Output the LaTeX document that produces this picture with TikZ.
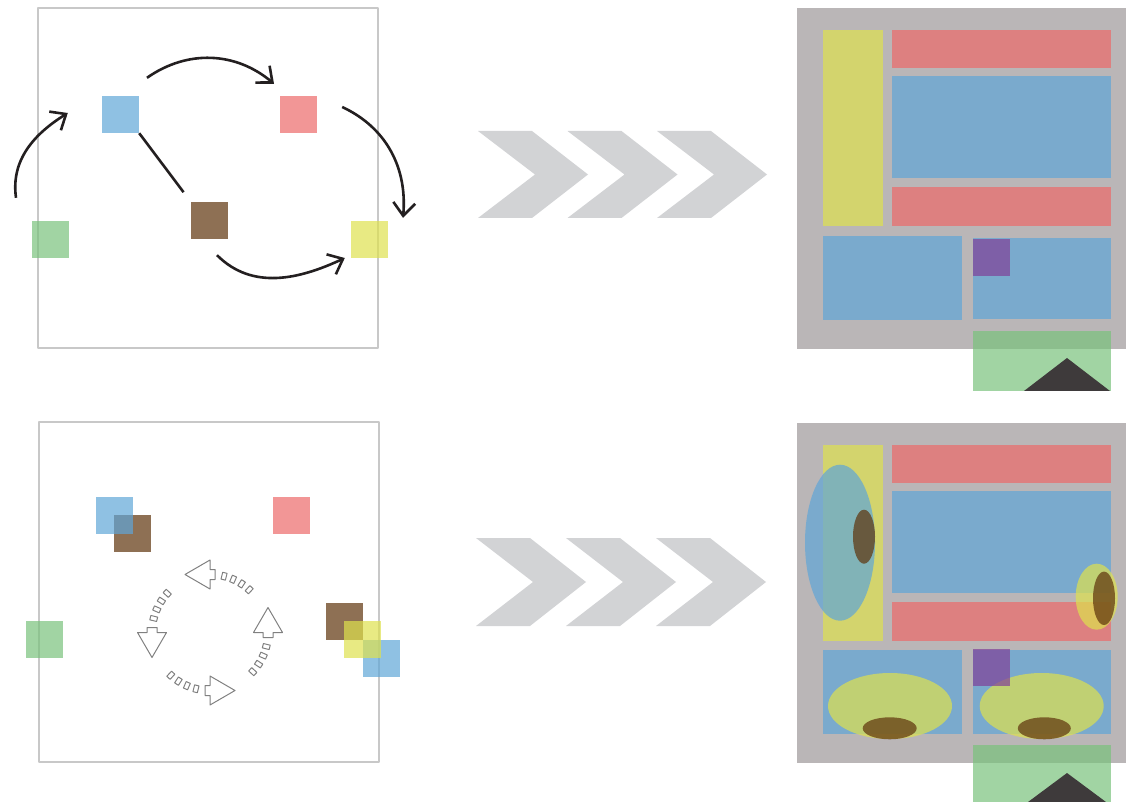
\documentclass[tikz,border=0pt]{standalone}
\usetikzlibrary{arrows.meta}
\definecolor{sqblue}{RGB}{95,166,215}
\definecolor{sqred}{RGB}{236,106,106}
\definecolor{sqbrown}{RGB}{94,51,12}
\definecolor{sqgreen}{RGB}{121,194,124}
\definecolor{sqyellow}{RGB}{222,225,78}
\definecolor{sqpurple}{RGB}{128,64,152}
\definecolor{panelgray}{RGB}{186,182,183}
\definecolor{chevgray}{RGB}{210,211,213}
\definecolor{framegray}{RGB}{200,200,200}
\definecolor{inkdark}{RGB}{35,31,32}
\definecolor{roofdark}{RGB}{62,58,59}
\begin{document}
\begin{tikzpicture}[x=1pt,y=1pt,>={Straight Barb[length=13pt,width=22pt,sharp]},line join=round,
	sq/.style={minimum size=37pt,inner sep=0pt,fill opacity=.7},
	blk/.style={fill opacity=.7},
	flow/.style={->,line width=2.6pt,inkdark},
	box/.style={line width=2.3pt,framegray},
	chev/.style={fill=chevgray},
	spin/.style={line width=1pt,gray}]
	\useasboundingbox (0,0) rectangle (1126,801);
	\clip (0,0) rectangle (1126,801);
	%\draw[color=gray!30] (0,0) grid[step=50] (1126,801);
	% Khung trên
	\draw[box] (38,793) rectangle (378,453);
	\node[sq,fill=sqblue] (b1) at (120.5,686.5) {};
	\node[sq,fill=sqred] (r1) at (298.5,686.5) {};
	\node[sq,fill=sqbrown] (br1) at (209.5,580.5) {};
	\node[sq,fill=sqgreen] (g1) at (50.5,561.5) {};
	\node[sq,fill=sqyellow] (y1) at (369.5,561.5) {};
	\draw[line width=2.6pt,inkdark,shorten >=12pt] (b1.south east) -- (br1.north west);
	\draw[flow] ([shift={(-34.5,23)}]g1.north) to[out=98,in=212] ([shift={(-34,1.5)}]b1.west);
	\draw[flow] ([shift={(26.5,18)}]b1.north) to[out=35,in=140] ([shift={(-24.5,12)}]r1.north);
	\draw[flow] ([shift={(25,7.5)}]r1.east) to[out=-25,in=85] ([shift={(33.5,3)}]y1.north);
	\draw[flow] ([shift={(7.5,-16)}]br1.south) to[out=-45,in=205] ([shift={(-6,-18.5)}]y1.west);
	% Khung dưới
	\draw[box] (39,379) rectangle (379,39);
	\node[sq,fill=sqbrown] (br2) at (132.5,267.5) {};
	\node[sq,fill=sqblue] (b2) at (114.5,285.5) {};
	\node[sq,fill=sqred] (r2) at (291.5,285.5) {};
	\node[sq,fill=sqgreen] (g2) at (44.5,161.5) {};
	\node[sq,fill=sqbrown] (br3) at (344.5,179.5) {};
	\node[sq,fill=sqblue] (b3) at (381.5,142.5) {};
	\node[sq,fill=sqyellow] (y3) at (362.5,161.5) {};
	\def\cx{210} \def\cy{168.5} \def\rad{58}
	\foreach \k in {0,90,180,270}{
		\begin{scope}[shift={(\cx,\cy)},rotate=\k]
			\draw[spin] (\rad,25) -- (\rad+14.5,0) -- (\rad+5,0) -- (\rad+5,-5) -- (\rad-5,-5) -- (\rad-5,0) -- (\rad-14.5,0) -- cycle;
			\foreach \a in {-14,-23.5,-33,-42.5}
			\draw[spin,rotate=\a] (\rad-3.5,-2.25) rectangle (\rad+3.5,2.25);
		\end{scope}
	}
	% Mũi tên
	\foreach \x in {478,567.5,657}
	\fill[chev] (\x,670) -- ++(54,0) -- ++(56,-43.5) -- ++(-56,-43.5) -- ++(-54,0) -- ++(57,43.5) -- cycle;
	\foreach \x in {476,566,656}
	\fill[chev] (\x,263) -- ++(54,0) -- ++(56,-44) -- ++(-56,-44) -- ++(-54,0) -- ++(57,44) -- cycle;
	% Bố cục trên
	\fill[panelgray] (797,793) rectangle (1130,452);
	\fill[blk,sqyellow] (823,771) rectangle (883,575);
	\fill[blk,sqred] (892,771) rectangle (1111,733);
	\fill[blk,sqblue] (892,725) rectangle (1111,623);
	\fill[blk,sqred] (892,614) rectangle (1111,575);
	\fill[blk,sqblue] (823,565) rectangle (962,481);
	\fill[blk,sqblue] (973,563) rectangle (1111,482);
	\fill[blk,sqpurple] (973,562) rectangle (1010,525);
	\fill[blk,sqgreen] (973,470) rectangle (1111,410);
	\fill[roofdark] (1024,410) -- (1067,443) -- (1110,410) -- cycle;
	% Bố cục dưới
	\fill[panelgray] (797,378) rectangle (1130,38);
	\fill[blk,sqyellow] (823,356) rectangle (883,160);
	\fill[blk,sqred] (892,356) rectangle (1111,318);
	\fill[blk,sqblue] (892,310) rectangle (1111,208);
	\fill[blk,sqred] (892,199) rectangle (1111,160);
	\fill[blk,sqblue] (823,151) rectangle (962,67);
	\fill[blk,sqblue] (973,151) rectangle (1111,67);
	\fill[blk,sqblue] (840,258.3) ellipse (35 and 78);
	\fill[blk,sqbrown] (864,264.3) ellipse (11 and 27);
	\fill[blk,sqyellow] (1096.7,204.3) ellipse (21 and 33);
	\fill[blk,sqbrown] (1104,202.7) ellipse (11 and 26.7);
	\fill[blk,sqyellow] (890,95) ellipse (62 and 33);
	\fill[blk,sqbrown] (889.7,72.7) ellipse (27 and 11);
	\fill[blk,sqyellow] (1041.7,95) ellipse (62 and 33);
	\fill[blk,sqbrown] (1044.3,72.7) ellipse (26.5 and 11);
	\fill[blk,sqpurple] (973,152) rectangle (1010,115);
	\fill[blk,sqgreen] (973,56) rectangle (1111,-5);
	\fill[roofdark] (1024,-4) -- (1067,28) -- (1110,-4) -- cycle;
\end{tikzpicture}
\end{document}
